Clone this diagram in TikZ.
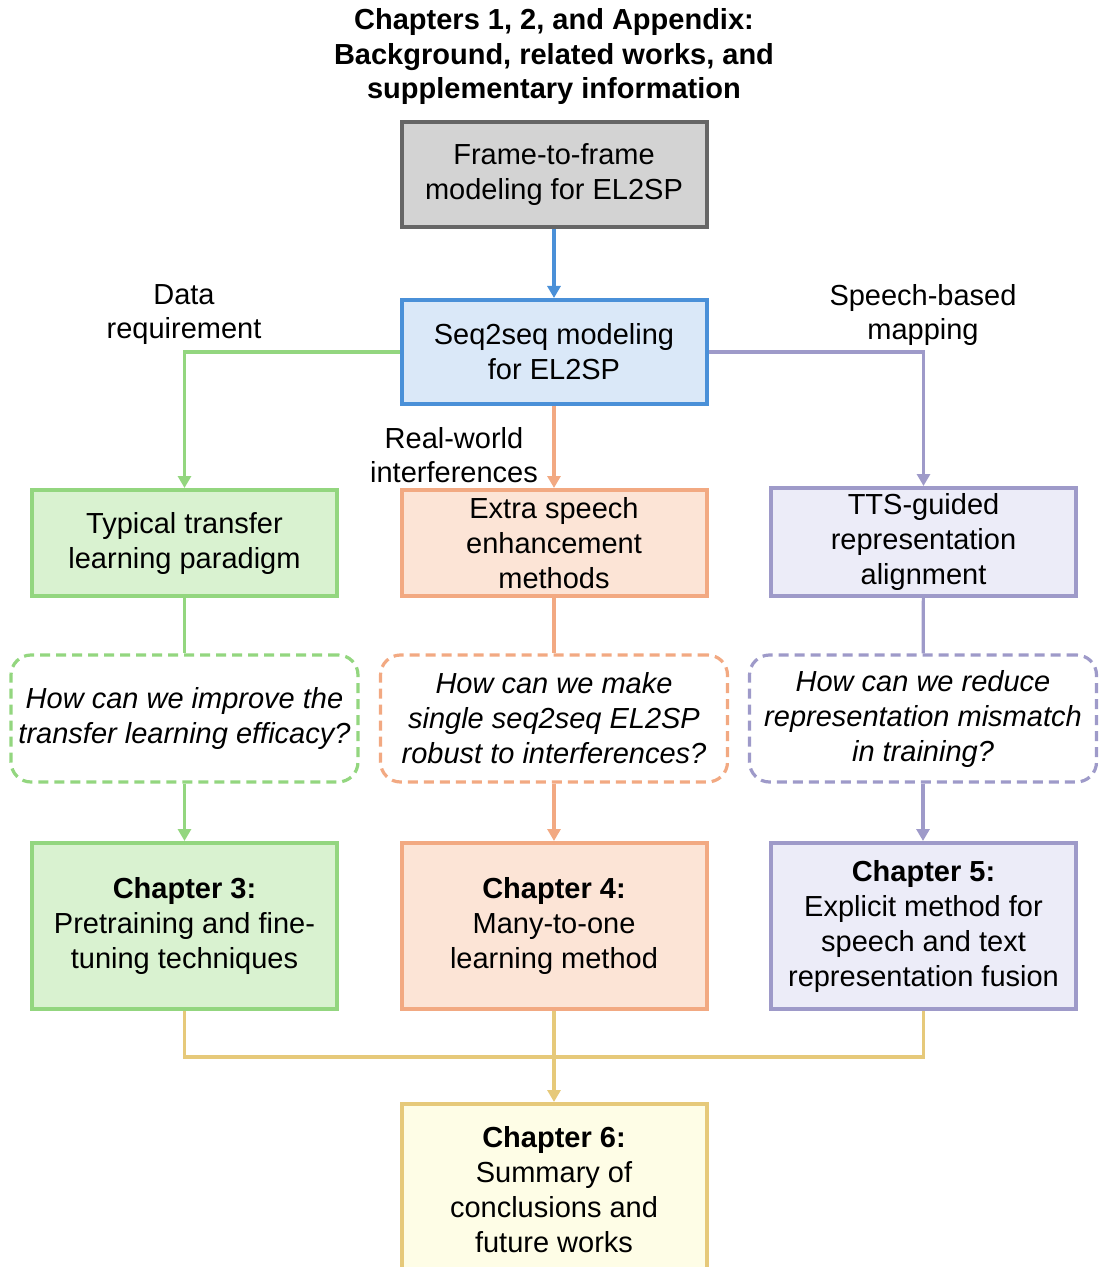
\documentclass[tikz,border=0pt]{standalone}
\usepackage{fontspec}
\setmainfont{Liberation Sans}
\definecolor{framegray}{RGB}{211, 211, 211}
\definecolor{framedark}{RGB}{102, 102, 102}
\definecolor{seqblue}{RGB}{218, 232, 248}
\definecolor{seqline}{RGB}{74, 144, 216}
\definecolor{trgreen}{RGB}{217, 242, 208}
\definecolor{trline}{RGB}{147, 214, 127}
\definecolor{seorange}{RGB}{252, 228, 214}
\definecolor{seline}{RGB}{242, 169, 130}
\definecolor{ttspurple}{RGB}{236, 236, 248}
\definecolor{ttsline}{RGB}{158, 154, 201}
\definecolor{sumyellow}{RGB}{254, 253, 230}
\definecolor{sumline}{RGB}{230, 201, 122}
\usetikzlibrary{arrows.meta}

\begin{document}
\begin{tikzpicture}[
    x=0.5pt, y=-0.5pt,
    arr/.style={-{Triangle[length=6pt, width=6.5pt]}, line width=1.6pt},
    line/.style={line width=1.6pt},
    box/.style={draw, line width=2pt, inner sep=0pt, align=center,
                minimum width=152.5pt, font=\fontsize{14.5}{17.5}\selectfont},
    question/.style={draw, line width=1.6pt, dash pattern=on 5pt off 3pt,
                rounded corners=10pt, fill=white, inner sep=0pt, align=center,
                minimum width=173.5pt, minimum height=63.5pt,
                font=\fontsize{14.5}{17.5}\selectfont\itshape},
    lbl/.style={align=center, font=\fontsize{14.5}{17}\selectfont}
  ]
    \useasboundingbox (0,0) rectangle (1100,1267);
    \node[align=center, font=\fontsize{14.5}{17.25}\selectfont\bfseries] (title) at (554,57) {
      Chapters 1, 2, and Appendix:\\
      Background, related works, and\\
      supplementary information
    };
    % top of the flow
    \node[box, draw=framedark, fill=framegray, minimum height=52.5pt] (frame) at (554,174.5) {
      Frame-to-frame\\modeling for EL2SP
    };
    \node[box, draw=seqline, fill=seqblue, minimum height=52pt] (seq) at (554,352) {
      Seq2seq modeling\\for EL2SP
    };
    % three branches
    \node[box, draw=trline, fill=trgreen, minimum height=53pt] (typical) at (184.5,543) {
      Typical transfer\\learning paradigm
    };
    \node[box, draw=seline, fill=seorange, minimum height=53pt] (extra) at (554,543) {
      Extra speech\\enhancement\\methods
    };
    \node[box, draw=ttsline, fill=ttspurple, minimum height=54pt] (tts) at (923.5,542) {
      TTS-guided\\representation\\alignment
    };
    \node[question, draw=trline] (qtransfer) at (184.5,718.5) {
      How can we improve the\\transfer learning efficacy?
    };
    \node[question, draw=seline] (qrobust) at (554,718.5) {
      How can we make\\single seq2seq EL2SP\\robust to interferences?
    };
    \node[question, draw=ttsline] (qmismatch) at (923,718.5) {
      How can we reduce\\representation mismatch\\in training?
    };
    \node[box, draw=trline, fill=trgreen, minimum height=83pt] (chapthree) at (184.5,926) {
      \textbf{Chapter 3:}\\Pretraining and fine-\\tuning techniques
    };
    \node[box, draw=seline, fill=seorange, minimum height=83pt] (chapfour) at (554,926) {
      \textbf{Chapter 4:}\\Many-to-one\\learning method
    };
    \node[box, draw=ttsline, fill=ttspurple, minimum height=83pt] (chapfive) at (923.5,926) {
      \textbf{Chapter 5:}\\Explicit method for\\speech and text\\representation fusion
    };
    \node[box, draw=sumline, fill=sumyellow, minimum height=86pt] (chapsix) at (554,1190) {
      \textbf{Chapter 6:}\\Summary of\\conclusions and\\future works
    };
    % branch labels
    \node[lbl] (datalbl) at (184,315) {Data\\requirement};
    \node[lbl] (speechlbl) at (923,315) {Speech-based\\mapping};
    \node[lbl] (noiselbl) at (454,455) {Real-world\\interferences};
    % connectors
    \draw[arr, seqline] (frame) -- (seq);
    \draw[arr, trline] (seq.west) -| (typical.north);
    \draw[arr, seline] (seq) -- (extra);
    \draw[arr, ttsline] (seq.east) -| (tts.north);
    \draw[line, trline] (typical) -- (qtransfer);
    \draw[line, seline] (extra) -- (qrobust);
    \draw[line, ttsline] (tts) -- (qmismatch);
    \draw[arr, trline] (qtransfer) -- (chapthree);
    \draw[arr, seline] (qrobust) -- (chapfour);
    \draw[arr, ttsline] (qmismatch.south) -- (qmismatch.south |- chapfive.north);
    \draw[line, sumline] (chapthree.south) -- ++(0,46) -| (chapfive.south);
    \draw[arr, sumline] (chapfour) -- (chapsix);
  \end{tikzpicture}
\end{document}
